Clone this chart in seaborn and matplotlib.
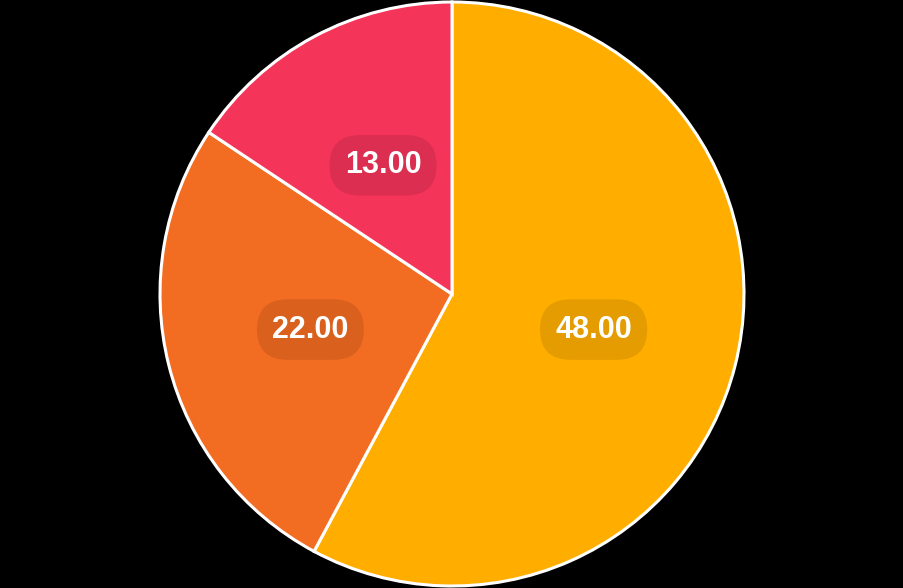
import matplotlib
matplotlib.use("Agg")
import matplotlib.pyplot as plt
import seaborn as sns

# ==========================================
# Data
# ==========================================
labels = ["A", "B", "C"]
values = [48, 22, 13]
colors = ["#FFAE00", "#F26C21", "#F5345A"]

sns.set_style("dark")
plt.rcParams["font.family"] = ["Liberation Sans", "DejaVu Sans"]

fig = plt.figure(figsize=(9.04, 5.88), dpi=100, facecolor="black")
ax = fig.add_axes([160 / 904, 2 / 588, 584 / 904, 584 / 588])
ax.set_facecolor("black")

wedges, texts = ax.pie(
    values,
    colors=colors,
    startangle=90,
    counterclock=False,
    labels=[f"{v:.2f}" for v in values],
    labeldistance=0.5,
    wedgeprops={"edgecolor": "white", "linewidth": 2.2},
)

for t in texts:
    t.set_ha("center")
    t.set_va("center")
    t.set_color("white")
    t.set_fontsize(22)
    t.set_fontweight("bold")
    t.set_bbox(dict(boxstyle="round,pad=0.5,rounding_size=1.0",
                    facecolor="black", alpha=0.1, edgecolor="none"))

ax.set_aspect("equal")
ax.set_xlim(-1.0, 1.0)
ax.set_ylim(-1.0, 1.0)
ax.axis("off")

plt.savefig("out.png", dpi=100, facecolor="black")
